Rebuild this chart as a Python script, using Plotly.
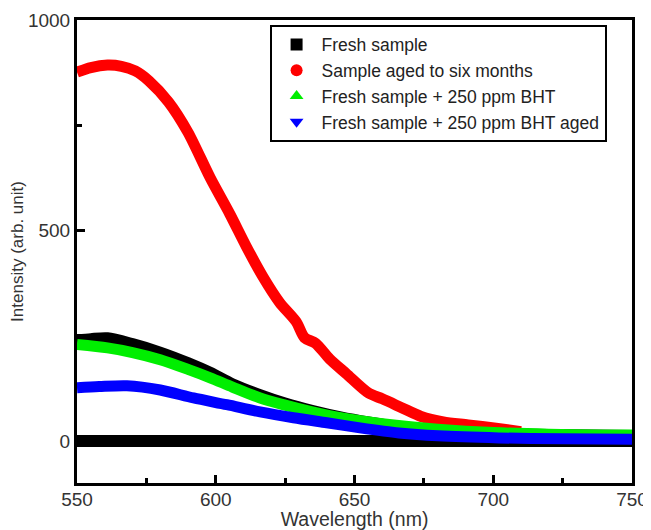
import plotly.graph_objects as go

# ---- data ----
wl_fresh = [550, 555, 561, 570, 580, 590, 598, 606, 616, 625, 635, 645, 655, 665, 680, 700, 720, 750]
fresh = [240, 243, 245, 231, 211, 186, 163, 136, 110, 90, 72, 57, 45, 35, 25, 18, 15, 13]

wl_aged = [550, 555, 561, 566, 571, 576, 583, 590, 598, 605, 611, 617, 623, 629, 632, 636, 641, 647, 655, 660, 667, 674, 682, 691, 701, 710]
aged = [876, 887, 893, 890, 879, 855, 805, 733, 625, 540, 462, 390, 329, 283, 245, 232, 195, 160, 114, 100, 79, 58, 45, 38, 30, 22]

wl_bht = [550, 561, 570, 580, 590, 598, 606, 616, 625, 634, 641, 652, 665, 680, 700, 720, 750]
bht = [229, 221, 210, 193, 170, 150, 128, 102, 85, 70, 60, 48, 37, 28, 20, 16, 14]

wl_bht_aged = [550, 558, 568, 580, 592, 604, 616, 628, 640, 652, 666, 680, 702, 725, 750]
bht_aged = [126, 129, 131, 121, 102, 86, 69, 55, 43, 31, 19, 12, 7, 5, 4]

wl_base = [550, 750]
base = [0, 0]

names = ["Fresh sample", "Sample aged to six months",
         "Fresh sample + 250 ppm BHT", "Fresh sample + 250 ppm BHT aged"]
colors = ["#000000", "#ff0000", "#00ee00", "#0000ff"]
symbols = ["square", "circle", "triangle-up", "triangle-down"]

FONT = "Liberation Sans, Arial, Helvetica, sans-serif"
LW = 11

fig = go.Figure()

# baseline
fig.add_trace(go.Scatter(x=wl_base, y=base, mode="lines",
                         line=dict(color="#000000", width=12),
                         showlegend=False, hoverinfo="skip"))

series = [(wl_fresh, fresh), (wl_aged, aged), (wl_bht, bht), (wl_bht_aged, bht_aged)]
for (xs, ys), c in zip(series, colors):
    fig.add_trace(go.Scatter(x=xs, y=ys, mode="lines",
                             line=dict(color=c, width=LW, shape="spline", smoothing=0.8),
                             showlegend=False))

# legend entries (markers only)
for n, c, s in zip(names, colors, symbols):
    fig.add_trace(go.Scatter(x=[None], y=[None], mode="markers", name=n,
                             marker=dict(color=c, symbol=s, size=12)))

# page body has an 8px default margin, so the figure is sized to fit the window
fig.update_layout(
    width=643, height=522,
    margin=dict(l=69, r=19, t=12, b=47, autoexpand=False),
    paper_bgcolor="white", plot_bgcolor="white",
    font=dict(family=FONT, size=18, color="#333333"),
    legend=dict(x=0.347, y=0.99, xanchor="left", yanchor="top",
                bgcolor="white", bordercolor="#000000", borderwidth=2,
                font=dict(family=FONT, size=17.5, color="#222222"),
                itemwidth=40, tracegroupgap=0, itemsizing="constant"),
)

fig.update_xaxes(
    range=[550, 750], dtick=50, tick0=550, automargin=False,
    showline=True, linecolor="black", linewidth=3, mirror=True,
    ticks="inside", ticklen=8, tickwidth=3, tickcolor="black",
    minor=dict(ticks="inside", ticklen=5, tickwidth=3, dtick=25, tickcolor="black"),
    showgrid=False, zeroline=False, ticklabelstandoff=-3,
    title=dict(text="Wavelength (nm)", font=dict(size=19.5, color="#333333"), standoff=1),
    tickfont=dict(size=19, color="#333333"),
)
fig.update_yaxes(
    range=[-100, 1000], tickvals=[0, 500, 1000], automargin=False,
    showline=True, linecolor="black", linewidth=3, mirror=True,
    ticks="inside", ticklen=8, tickwidth=3, tickcolor="black",
    minor=dict(ticks="inside", ticklen=5, tickwidth=3, tickvals=[250, 750], tickcolor="black"),
    showgrid=False, zeroline=False,
    title=dict(text="Intensity (arb. unit)", font=dict(size=17, color="#333333"), standoff=0),
    tickfont=dict(size=19, color="#333333"),
)

fig.write_html("out.html")
